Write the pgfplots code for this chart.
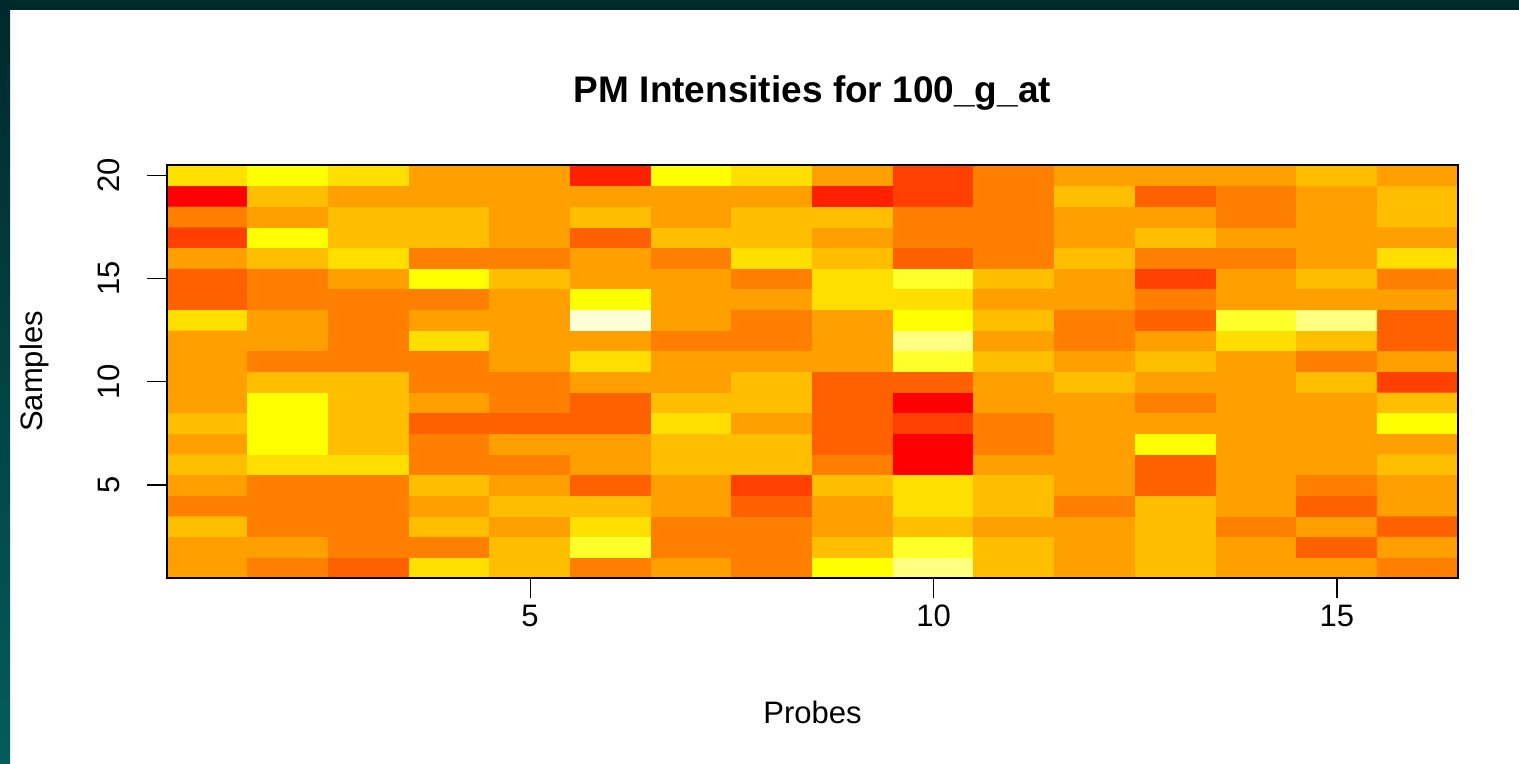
\documentclass[border=0pt]{standalone}
\usepackage{pgfplots}
\pgfplotsset{compat=1.18}
\usepackage{fontspec}
\setmainfont{Liberation Sans}
\definecolor{topteal}{RGB}{0,41,43}
\definecolor{botteal}{RGB}{4,92,92}
\begin{document}
\begin{tikzpicture}[x=1pt,y=1pt]
\fill[white] (0,0) rectangle (759.5,382);
\fill[topteal] (0,377) rectangle (759.5,382);
\shade[top color=topteal, bottom color=botteal] (0,0) rectangle (5,377);
\begin{axis}[at={(83.5pt,93pt)}, anchor=south west, scale only axis,
  width=645.5pt, height=206.5pt,
  xmin=0.5, xmax=16.5, ymin=0.5, ymax=20.5,
  xtick={5,10,15}, ytick={5,10,15,20},
  tick align=outside, tick pos=left, major tick length=10pt,
  axis on top,
  axis line style={line width=0.6pt, black},
  every tick/.style={black, line width=0.6pt},
  ticklabel style={font=\fontsize{15.5}{18}\selectfont},
  /pgf/number format/assume math mode=true,
  yticklabel style={rotate=90, anchor=south},
  yticklabel shift=10pt,
  xticklabel style={anchor=north},
  colormap access=direct,
  colormap={heat}{rgb255=(255,255,255) rgb255=(255,0,0) rgb255=(255,32,0) rgb255=(255,64,0) rgb255=(255,96,0) rgb255=(255,128,0) rgb255=(255,159,0) rgb255=(255,191,0) rgb255=(255,223,0) rgb255=(255,255,0) rgb255=(255,255,42) rgb255=(255,255,128) rgb255=(255,255,213)},
]
\addplot[matrix plot*, point meta=explicit, mesh/cols=16, mesh/rows=20] coordinates {
(1,1)[6] (2,1)[5] (3,1)[4] (4,1)[8] (5,1)[7] (6,1)[5] (7,1)[6] (8,1)[5] (9,1)[9] (10,1)[11] (11,1)[7] (12,1)[6] (13,1)[7] (14,1)[6] (15,1)[6] (16,1)[5]
(1,2)[6] (2,2)[6] (3,2)[5] (4,2)[5] (5,2)[7] (6,2)[10] (7,2)[5] (8,2)[5] (9,2)[7] (10,2)[10] (11,2)[7] (12,2)[6] (13,2)[7] (14,2)[6] (15,2)[4] (16,2)[6]
(1,3)[7] (2,3)[5] (3,3)[5] (4,3)[7] (5,3)[6] (6,3)[8] (7,3)[5] (8,3)[5] (9,3)[6] (10,3)[7] (11,3)[6] (12,3)[6] (13,3)[7] (14,3)[5] (15,3)[6] (16,3)[4]
(1,4)[5] (2,4)[5] (3,4)[5] (4,4)[6] (5,4)[7] (6,4)[7] (7,4)[6] (8,4)[4] (9,4)[6] (10,4)[8] (11,4)[7] (12,4)[5] (13,4)[7] (14,4)[6] (15,4)[4] (16,4)[6]
(1,5)[6] (2,5)[5] (3,5)[5] (4,5)[7] (5,5)[6] (6,5)[4] (7,5)[6] (8,5)[3] (9,5)[7] (10,5)[8] (11,5)[7] (12,5)[6] (13,5)[4] (14,5)[6] (15,5)[5] (16,5)[6]
(1,6)[7] (2,6)[8] (3,6)[8] (4,6)[5] (5,6)[5] (6,6)[6] (7,6)[7] (8,6)[7] (9,6)[5] (10,6)[1] (11,6)[6] (12,6)[6] (13,6)[4] (14,6)[6] (15,6)[6] (16,6)[7]
(1,7)[6] (2,7)[9] (3,7)[7] (4,7)[5] (5,7)[6] (6,7)[6] (7,7)[7] (8,7)[7] (9,7)[4] (10,7)[1] (11,7)[5] (12,7)[6] (13,7)[9] (14,7)[6] (15,7)[6] (16,7)[6]
(1,8)[7] (2,8)[9] (3,8)[7] (4,8)[4] (5,8)[4] (6,8)[4] (7,8)[8] (8,8)[6] (9,8)[4] (10,8)[3] (11,8)[5] (12,8)[6] (13,8)[6] (14,8)[6] (15,8)[6] (16,8)[9]
(1,9)[6] (2,9)[9] (3,9)[7] (4,9)[6] (5,9)[5] (6,9)[4] (7,9)[7] (8,9)[7] (9,9)[4] (10,9)[1] (11,9)[6] (12,9)[6] (13,9)[5] (14,9)[6] (15,9)[6] (16,9)[7]
(1,10)[6] (2,10)[7] (3,10)[7] (4,10)[5] (5,10)[5] (6,10)[6] (7,10)[6] (8,10)[7] (9,10)[4] (10,10)[4] (11,10)[6] (12,10)[7] (13,10)[6] (14,10)[6] (15,10)[7] (16,10)[3]
(1,11)[6] (2,11)[5] (3,11)[5] (4,11)[5] (5,11)[6] (6,11)[8] (7,11)[6] (8,11)[6] (9,11)[6] (10,11)[10] (11,11)[7] (12,11)[6] (13,11)[7] (14,11)[6] (15,11)[5] (16,11)[6]
(1,12)[6] (2,12)[6] (3,12)[5] (4,12)[8] (5,12)[6] (6,12)[6] (7,12)[5] (8,12)[5] (9,12)[6] (10,12)[11] (11,12)[6] (12,12)[5] (13,12)[6] (14,12)[8] (15,12)[7] (16,12)[4]
(1,13)[8] (2,13)[6] (3,13)[5] (4,13)[6] (5,13)[6] (6,13)[12] (7,13)[6] (8,13)[5] (9,13)[6] (10,13)[9] (11,13)[7] (12,13)[5] (13,13)[4] (14,13)[10] (15,13)[11] (16,13)[4]
(1,14)[4] (2,14)[5] (3,14)[5] (4,14)[5] (5,14)[6] (6,14)[9] (7,14)[6] (8,14)[6] (9,14)[8] (10,14)[8] (11,14)[6] (12,14)[6] (13,14)[5] (14,14)[6] (15,14)[6] (16,14)[6]
(1,15)[4] (2,15)[5] (3,15)[6] (4,15)[9] (5,15)[7] (6,15)[6] (7,15)[6] (8,15)[5] (9,15)[8] (10,15)[10] (11,15)[7] (12,15)[6] (13,15)[3] (14,15)[6] (15,15)[7] (16,15)[5]
(1,16)[6] (2,16)[7] (3,16)[8] (4,16)[5] (5,16)[5] (6,16)[6] (7,16)[5] (8,16)[8] (9,16)[7] (10,16)[4] (11,16)[5] (12,16)[7] (13,16)[5] (14,16)[5] (15,16)[6] (16,16)[8]
(1,17)[3] (2,17)[9] (3,17)[7] (4,17)[7] (5,17)[6] (6,17)[4] (7,17)[7] (8,17)[7] (9,17)[6] (10,17)[5] (11,17)[5] (12,17)[6] (13,17)[7] (14,17)[6] (15,17)[6] (16,17)[6]
(1,18)[5] (2,18)[6] (3,18)[7] (4,18)[7] (5,18)[6] (6,18)[7] (7,18)[6] (8,18)[7] (9,18)[7] (10,18)[5] (11,18)[5] (12,18)[6] (13,18)[6] (14,18)[5] (15,18)[6] (16,18)[7]
(1,19)[1] (2,19)[7] (3,19)[6] (4,19)[6] (5,19)[6] (6,19)[6] (7,19)[6] (8,19)[6] (9,19)[2] (10,19)[3] (11,19)[5] (12,19)[7] (13,19)[4] (14,19)[5] (15,19)[6] (16,19)[7]
(1,20)[8] (2,20)[9] (3,20)[8] (4,20)[6] (5,20)[6] (6,20)[2] (7,20)[9] (8,20)[8] (9,20)[6] (10,20)[3] (11,20)[5] (12,20)[6] (13,20)[6] (14,20)[6] (15,20)[7] (16,20)[6]
};
\end{axis}
\node[font=\bfseries\fontsize{18.5}{22}\selectfont, anchor=base] at (406.25,330.5) {PM Intensities for 100\_g\_at};
\node[font=\fontsize{15.5}{18}\selectfont, anchor=base] at (406.25,20) {Probes};
\node[font=\fontsize{15.5}{18}\selectfont, rotate=90] at (17,196.25) {Samples};
\end{tikzpicture}
\end{document}
